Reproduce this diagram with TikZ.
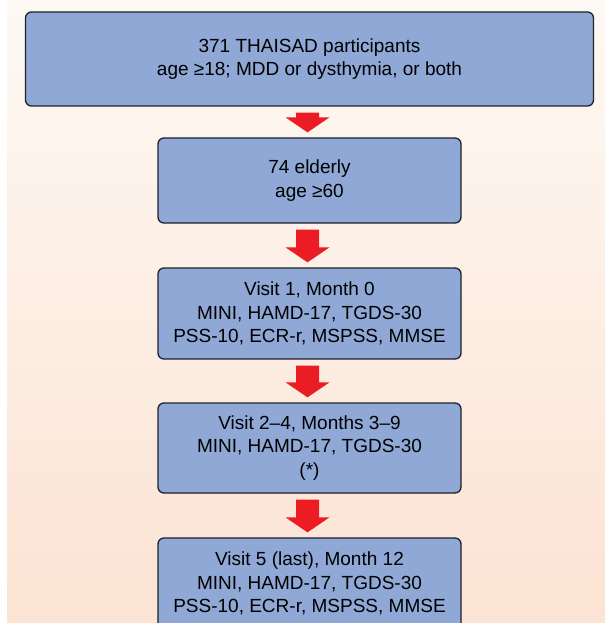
\documentclass[tikz,border=0pt]{standalone}
\usepackage{fontspec}
\setmainfont{Liberation Sans}
\usetikzlibrary{calc}
\definecolor{boxblue}{RGB}{143,168,214}
\definecolor{boxline}{RGB}{30,34,44}
\definecolor{bgtop}{RGB}{253,249,244}
\definecolor{bgbot}{RGB}{252,227,211}
\definecolor{arrowred}{RGB}{236,28,36}
\tikzset{
  stage/.style={draw=boxline,line width=1.3pt,fill=boxblue,rounded corners=6pt,
    align=center,inner sep=0pt,minimum width=303pt,minimum height=90pt,
    font=\fontsize{19}{23.5}\selectfont}
}
\newcommand{\redarrow}[2]{%
  \fill[arrowred] ($(#1.south)+(-13.5,6)$) -- ($(#1.south)+(9.5,6)$)
    -- ($(#2.north)+(9.5,-20)$) -- ($(#2.north)+(20,-20)$) -- ($(#2.north)+(-2,-5)$)
    -- ($(#2.north)+(-24,-20)$) -- ($(#2.north)+(-13.5,-20)$) -- cycle;}
\begin{document}
\begin{tikzpicture}[x=1pt,y=-1pt]
  \useasboundingbox (0,0) rectangle (605,623);
  \fill[white] (0,0) rectangle (605,623);
  \shade[top color=bgtop,bottom color=bgbot] (7,0) rectangle (605,623);
  \node[stage,minimum width=568pt,minimum height=94pt] (thaisad) at (309.5,59)
    {371 THAISAD participants\\age ≥18; MDD or dysthymia, or both};
  \node[stage,minimum height=85pt] (elderly) at (309.5,180.5) {74 elderly\\age ≥60};
  \node[stage,minimum height=91pt] (visita) at (309.5,313.5)
    {Visit 1, Month 0\\MINI, HAMD-17, TGDS-30\\PSS-10, ECR-r, MSPSS, MMSE};
  \node[stage] (visitb) at (309.5,448)
    {Visit 2–4, Months 3–9\\MINI, HAMD-17, TGDS-30\\(*)};
  \node[stage,minimum height=91pt] (visitc) at (309.5,583.5)
    {Visit 5 (last), Month 12\\MINI, HAMD-17, TGDS-30\\PSS-10, ECR-r, MSPSS, MMSE};
  \redarrow{thaisad}{elderly}
  \redarrow{elderly}{visita}
  \redarrow{visita}{visitb}
  \redarrow{visitb}{visitc}
\end{tikzpicture}
\end{document}
